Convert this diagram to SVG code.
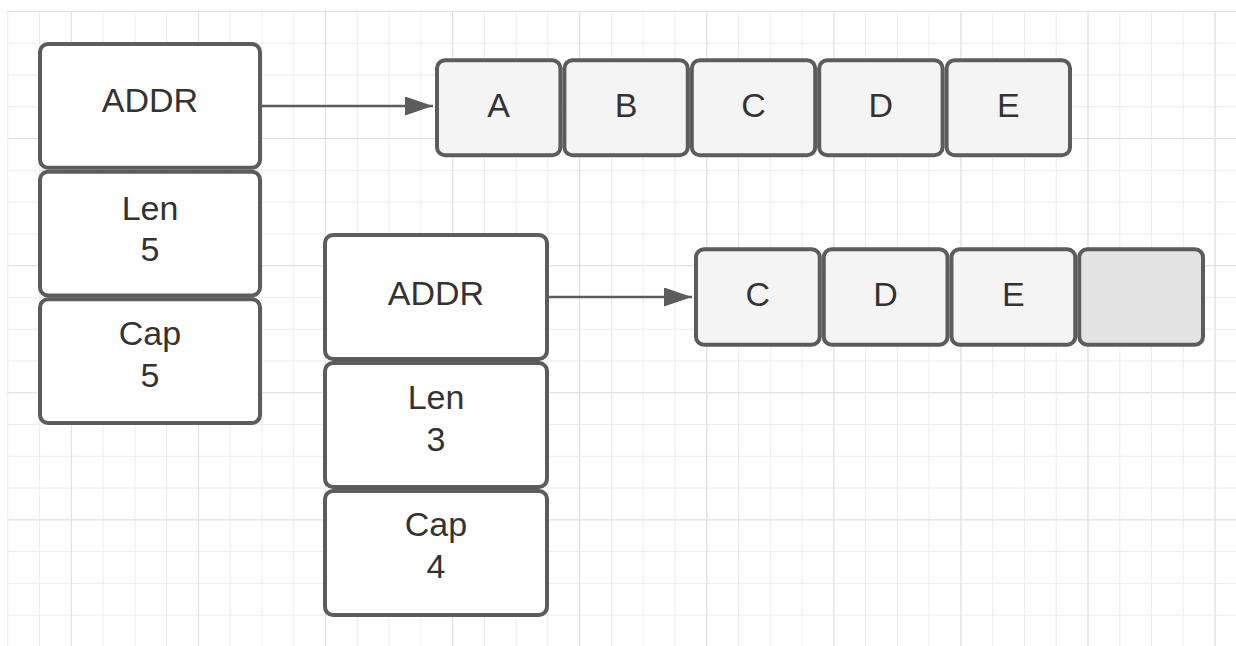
<svg xmlns="http://www.w3.org/2000/svg" width="1236" height="646" viewBox="0 0 1236 646">
  <style>
    .box { fill: #ffffff; stroke: #5c5c5c; stroke-width: 4; }
    .cell { fill: #f5f4f5; stroke: #5c5c5c; stroke-width: 4; }
    .empty { fill: #e3e3e3; stroke: #5c5c5c; stroke-width: 4; }
    .lbl { font-family: "Liberation Sans", Arial, sans-serif; font-size: 34px; fill: #333333; text-anchor: middle; }
    .conn { stroke: #5c5c5c; stroke-width: 2.5; fill: none; }
  </style>
  <defs>
    <pattern id="minor" x="7.3" y="11" width="31.77" height="31.77" patternUnits="userSpaceOnUse">
      <path d="M0 0.5H31.77M0.5 0V31.77" stroke="#ececec" stroke-width="1" fill="none"/>
    </pattern>
    <pattern id="major" x="70.84" y="11" width="127.08" height="127.08" patternUnits="userSpaceOnUse">
      <path d="M0 0.5H127.08M0.5 0V127.08" stroke="#e0e0e0" stroke-width="1.2" fill="none"/>
    </pattern>
    <marker id="arrow" markerUnits="userSpaceOnUse" markerWidth="29" markerHeight="20" refX="28" refY="9.5" orient="auto">
      <path d="M0 0L28 9.5L0 19Z" fill="#5c5c5c"/>
    </marker>
  </defs>

  <rect width="1236" height="646" fill="#ffffff"/>
  <rect x="7" y="11" width="1229" height="635" fill="url(#minor)"/>
  <rect x="7" y="11" width="1229" height="635" fill="url(#major)"/>

  <g id="connectors">
    <line class="conn" x1="262" y1="106" x2="433" y2="106" marker-end="url(#arrow)"/>
    <line class="conn" x1="549" y1="297" x2="692" y2="297" marker-end="url(#arrow)"/>
  </g>

  <g id="slice1-addr">
    <rect class="box" x="40" y="44" width="220" height="123.7" rx="8"/>
    <text class="lbl" x="150" y="112">ADDR</text>
  </g>
  <g id="slice1-len">
    <rect class="box" x="40" y="171.7" width="220" height="123.7" rx="8"/>
    <text class="lbl" x="150" y="219.5">Len</text>
    <text class="lbl" x="150" y="260.5">5</text>
  </g>
  <g id="slice1-cap">
    <rect class="box" x="40" y="299.3" width="220" height="123.7" rx="8"/>
    <text class="lbl" x="150" y="345">Cap</text>
    <text class="lbl" x="150" y="387">5</text>
  </g>

  <g id="slice2-addr">
    <rect class="box" x="325" y="235" width="222" height="124" rx="8"/>
    <text class="lbl" x="436" y="305">ADDR</text>
  </g>
  <g id="slice2-len">
    <rect class="box" x="325" y="363" width="222" height="124" rx="8"/>
    <text class="lbl" x="436" y="409">Len</text>
    <text class="lbl" x="436" y="451">3</text>
  </g>
  <g id="slice2-cap">
    <rect class="box" x="325" y="491" width="222" height="124" rx="8"/>
    <text class="lbl" x="436" y="535.5">Cap</text>
    <text class="lbl" x="436" y="577.5">4</text>
  </g>

  <g id="array1-A">
    <rect class="cell" x="437" y="60.3" width="123.4" height="95" rx="8"/>
    <text class="lbl" x="498.7" y="117.3">A</text>
  </g>
  <g id="array1-B">
    <rect class="cell" x="564.4" y="60.3" width="123.4" height="95" rx="8"/>
    <text class="lbl" x="626.1" y="117.3">B</text>
  </g>
  <g id="array1-C">
    <rect class="cell" x="691.8" y="60.3" width="123.4" height="95" rx="8"/>
    <text class="lbl" x="753.5" y="117.3">C</text>
  </g>
  <g id="array1-D">
    <rect class="cell" x="819.2" y="60.3" width="123.4" height="95" rx="8"/>
    <text class="lbl" x="880.9" y="117.3">D</text>
  </g>
  <g id="array1-E">
    <rect class="cell" x="946.6" y="60.3" width="123.4" height="95" rx="8"/>
    <text class="lbl" x="1008.3" y="117.3">E</text>
  </g>

  <g id="array2-C">
    <rect class="cell" x="696" y="249.3" width="123.75" height="95.4" rx="8"/>
    <text class="lbl" x="757.9" y="305.5">C</text>
  </g>
  <g id="array2-D">
    <rect class="cell" x="823.75" y="249.3" width="123.75" height="95.4" rx="8"/>
    <text class="lbl" x="885.6" y="305.5">D</text>
  </g>
  <g id="array2-E">
    <rect class="cell" x="951.5" y="249.3" width="123.75" height="95.4" rx="8"/>
    <text class="lbl" x="1013.4" y="305.5">E</text>
  </g>
  <g id="array2-empty">
    <rect class="empty" x="1079.25" y="249.3" width="123.75" height="95.4" rx="8"/>
  </g>
</svg>
